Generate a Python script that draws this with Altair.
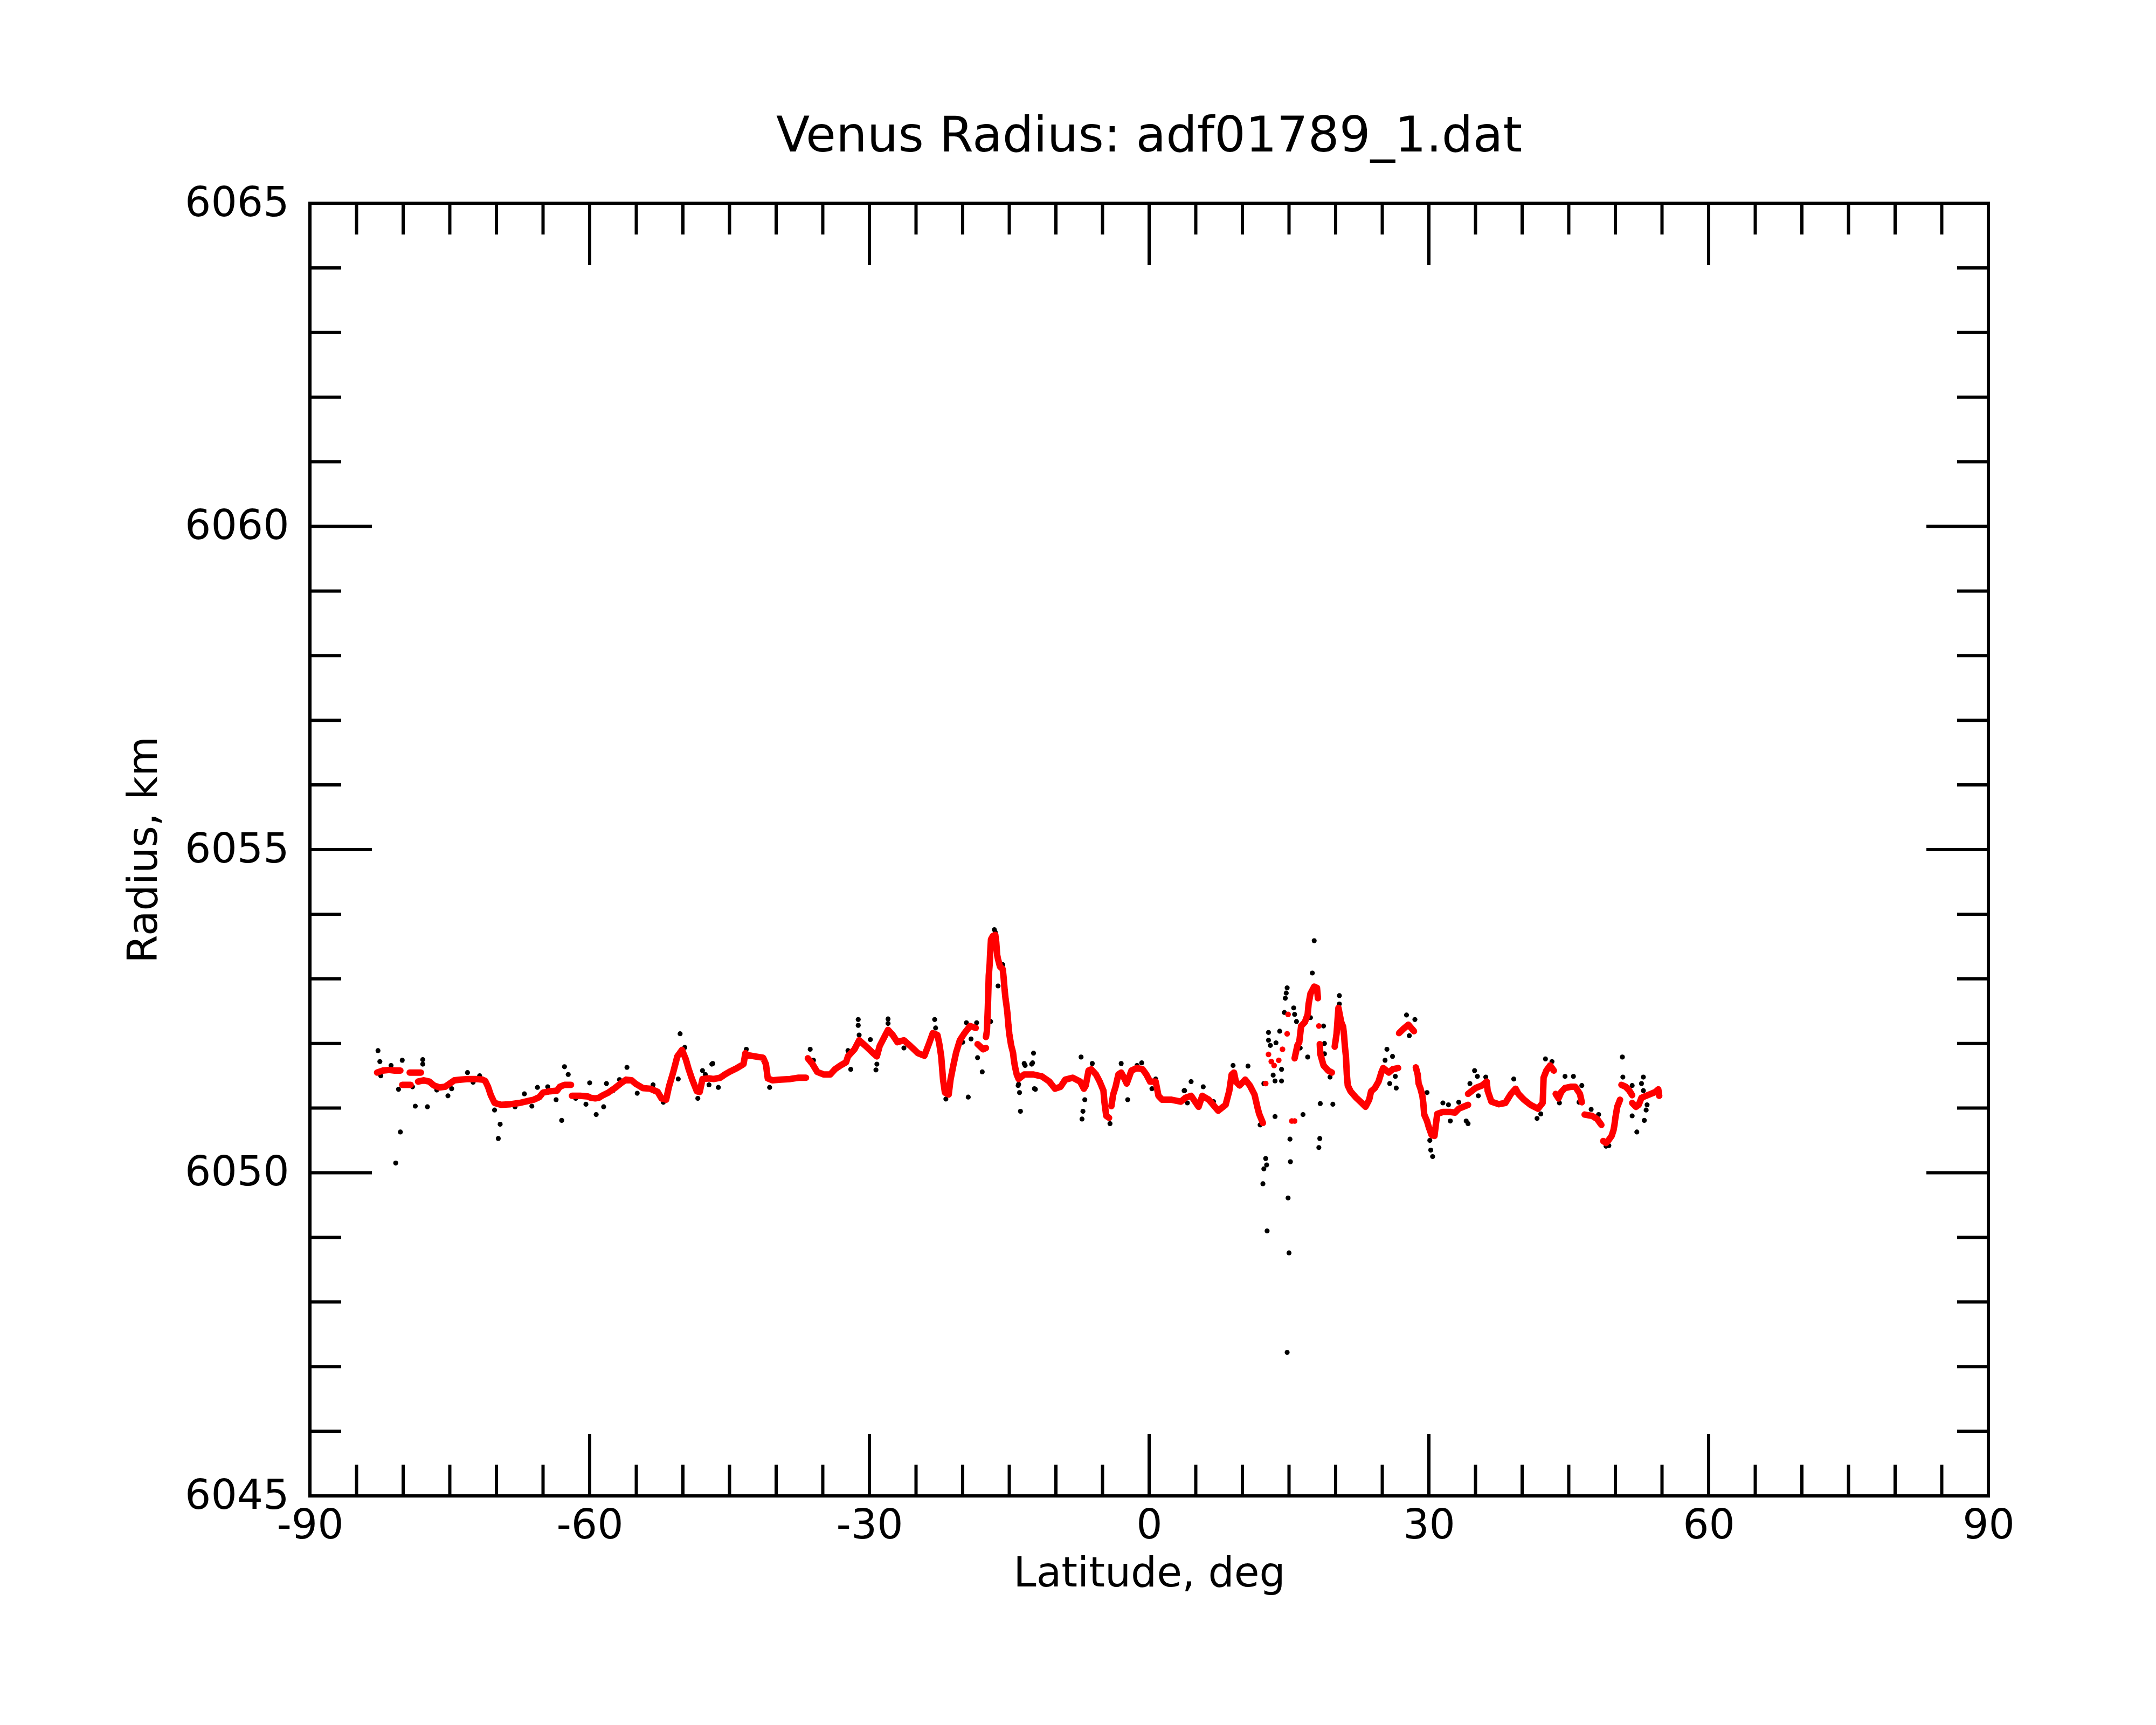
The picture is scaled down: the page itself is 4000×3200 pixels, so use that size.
import altair as alt
import pandas as pd

# ---- red (filtered) profile, as connected runs of (lat, radius)
red_runs = [
    [(-82.8, 6051.55), (-82.2, 6051.58), (-81.5, 6051.59), (-80.9, 6051.58), (-80.3, 6051.58)],
    [(-80.1, 6051.36), (-79.6, 6051.36), (-79.2, 6051.36)],
    [(-79.3, 6051.55), (-78.7, 6051.55), (-78.1, 6051.55)],
    [(-78.4, 6051.41), (-77.8, 6051.43), (-77.2, 6051.41), (-76.7, 6051.35), (-76.1, 6051.32),
     (-75.5, 6051.33), (-75.0, 6051.38), (-74.5, 6051.43), (-73.8, 6051.44), (-73.0, 6051.45),
     (-72.2, 6051.45), (-71.5, 6051.44), (-71.2, 6051.42), (-70.9, 6051.33), (-70.6, 6051.20),
     (-70.2, 6051.08), (-69.5, 6051.05), (-68.5, 6051.06), (-67.5, 6051.08), (-66.6, 6051.11),
     (-66.0, 6051.13), (-65.4, 6051.17), (-65.0, 6051.24), (-64.3, 6051.26), (-63.5, 6051.27),
     (-63.2, 6051.33), (-62.7, 6051.36), (-62.0, 6051.36)],
    [(-61.9, 6051.19), (-61.0, 6051.19), (-60.2, 6051.18), (-59.9, 6051.16), (-59.4, 6051.15),
     (-59.0, 6051.16), (-58.7, 6051.19), (-58.0, 6051.24), (-57.3, 6051.31), (-56.6, 6051.39),
     (-56.1, 6051.44), (-55.5, 6051.43), (-55.1, 6051.38), (-54.3, 6051.31), (-53.5, 6051.30),
     (-52.7, 6051.25), (-52.3, 6051.15), (-51.8, 6051.13), (-51.5, 6051.33), (-51.05, 6051.55),
     (-50.6, 6051.80), (-50.1, 6051.90), (-49.7, 6051.76), (-49.4, 6051.61), (-49.0, 6051.44),
     (-48.5, 6051.26), (-48.2, 6051.25), (-47.9, 6051.45), (-47.2, 6051.46), (-46.7, 6051.45),
     (-46.0, 6051.47), (-45.5, 6051.52), (-44.9, 6051.57), (-44.2, 6051.62), (-43.5, 6051.68),
     (-43.3, 6051.85), (-43.1, 6051.82), (-42.3, 6051.80), (-41.4, 6051.78), (-41.1, 6051.68),
     (-40.9, 6051.46), (-40.4, 6051.43), (-39.5, 6051.44), (-38.5, 6051.45), (-37.6, 6051.47),
     (-36.8, 6051.47)],
    [(-36.6, 6051.77), (-36.1, 6051.68), (-35.6, 6051.56), (-34.9, 6051.52), (-34.2, 6051.52),
     (-33.7, 6051.60), (-33.1, 6051.66), (-32.5, 6051.71), (-32.3, 6051.80), (-31.6, 6051.91),
     (-31.1, 6052.05), (-30.4, 6051.96), (-29.6, 6051.85), (-29.2, 6051.80), (-28.9, 6051.96),
     (-28.4, 6052.10), (-28.0, 6052.21), (-27.5, 6052.13), (-27.0, 6052.02), (-26.3, 6052.05),
     (-25.6, 6051.96), (-24.8, 6051.85), (-24.1, 6051.81), (-23.6, 6052.00), (-23.2, 6052.16),
     (-22.7, 6052.13), (-22.5, 6051.99), (-22.3, 6051.80), (-22.1, 6051.44), (-21.9, 6051.24),
     (-21.5, 6051.21), (-21.3, 6051.44), (-21.0, 6051.66), (-20.7, 6051.86), (-20.3, 6052.05),
     (-19.8, 6052.16), (-19.2, 6052.27), (-18.6, 6052.24)],
    [(-18.4, 6051.99), (-17.8, 6051.91), (-17.5, 6051.93)],
    [(-17.5, 6052.10), (-17.4, 6052.19), (-17.3, 6052.55), (-17.25, 6052.79), (-17.2, 6053.05),
     (-17.1, 6053.23), (-17.06, 6053.37), (-16.96, 6053.61), (-16.77, 6053.66), (-16.5, 6053.68),
     (-16.4, 6053.57), (-16.3, 6053.37), (-16.2, 6053.30), (-16.0, 6053.19), (-15.7, 6053.15),
     (-15.6, 6053.01), (-15.5, 6052.83), (-15.4, 6052.69), (-15.3, 6052.59), (-15.2, 6052.47),
     (-15.1, 6052.29), (-15.0, 6052.15), (-14.9, 6052.06), (-14.8, 6051.97), (-14.6, 6051.86),
     (-14.5, 6051.74), (-14.4, 6051.65), (-14.2, 6051.52), (-14.0, 6051.45), (-13.4, 6051.52),
     (-12.4, 6051.52), (-11.5, 6051.49), (-10.7, 6051.41), (-10.1, 6051.30), (-9.5, 6051.33),
     (-9.0, 6051.44), (-8.2, 6051.47), (-7.4, 6051.41), (-7.0, 6051.30), (-6.8, 6051.35),
     (-6.5, 6051.58), (-6.2, 6051.60), (-5.7, 6051.52), (-5.3, 6051.41), (-4.9, 6051.27),
     (-4.8, 6051.10), (-4.6, 6050.88), (-4.3, 6050.85)],
    [(-4.05, 6051.03), (-3.86, 6051.21), (-3.6, 6051.33), (-3.3, 6051.52), (-3.0, 6051.55),
     (-2.7, 6051.47), (-2.4, 6051.38), (-1.9, 6051.58), (-1.3, 6051.62), (-0.7, 6051.60),
     (-0.3, 6051.52), (0.1, 6051.41), (0.7, 6051.41), (1.0, 6051.19), (1.4, 6051.13),
     (2.4, 6051.13), (3.4, 6051.10), (3.9, 6051.16), (4.5, 6051.19), (5.3, 6051.02),
     (5.7, 6051.19), (6.4, 6051.13), (7.4, 6050.96), (8.2, 6051.05), (8.6, 6051.27),
     (8.85, 6051.52), (9.1, 6051.55), (9.3, 6051.41), (9.7, 6051.35), (10.3, 6051.44),
     (10.8, 6051.35), (11.3, 6051.21), (11.6, 6051.02), (11.8, 6050.91), (12.2, 6050.77)],
    [(15.6, 6051.77), (15.9, 6051.97), (16.1, 6052.02), (16.3, 6052.27), (16.7, 6052.33),
     (17.0, 6052.45), (17.1, 6052.61), (17.3, 6052.77), (17.7, 6052.88), (18.0, 6052.86),
     (18.1, 6052.70)],
    [(18.3, 6051.99), (18.35, 6051.84), (18.7, 6051.66), (19.2, 6051.58), (19.6, 6051.55)],
    [(19.9, 6051.95), (20.0, 6052.05), (20.1, 6052.15), (20.3, 6052.55), (20.6, 6052.33),
     (20.8, 6052.26), (20.9, 6052.13), (21.0, 6051.94), (21.1, 6051.81), (21.2, 6051.52),
     (21.3, 6051.35), (21.6, 6051.26), (22.2, 6051.16), (22.8, 6051.08), (23.2, 6051.02),
     (23.6, 6051.13), (23.8, 6051.26), (24.2, 6051.31), (24.6, 6051.41), (24.9, 6051.55),
     (25.1, 6051.62), (25.7, 6051.55), (26.1, 6051.60), (26.7, 6051.62)],
    [(26.8, 6052.16), (27.3, 6052.23), (27.8, 6052.29), (28.4, 6052.19)],
    [(28.6, 6051.63), (28.8, 6051.52), (28.9, 6051.38), (29.1, 6051.30), (29.3, 6051.19),
     (29.4, 6051.08), (29.5, 6050.90), (29.8, 6050.80), (30.0, 6050.70), (30.3, 6050.58),
     (30.6, 6050.57), (30.75, 6050.75), (30.9, 6050.91), (31.5, 6050.94), (32.3, 6050.94),
     (32.8, 6050.93), (33.2, 6050.99), (34.2, 6051.05)],
    [(34.2, 6051.22), (35.0, 6051.31), (35.7, 6051.35), (36.2, 6051.41), (36.3, 6051.27),
     (36.7, 6051.10), (37.5, 6051.06), (38.2, 6051.08), (38.8, 6051.22), (39.3, 6051.30),
     (39.6, 6051.22), (40.2, 6051.13), (40.9, 6051.05), (41.7, 6050.99), (42.2, 6051.08),
     (42.25, 6051.24), (42.3, 6051.47), (42.6, 6051.58), (43.0, 6051.66), (43.4, 6051.58)],
    [(43.6, 6051.22), (43.9, 6051.15), (44.2, 6051.25), (44.6, 6051.31), (45.2, 6051.33),
     (45.7, 6051.33), (46.2, 6051.22), (46.4, 6051.09)],
    [(46.7, 6050.90), (47.1, 6050.89), (47.5, 6050.88), (48.05, 6050.83), (48.5, 6050.74)],
    [(48.7, 6050.49), (49.0, 6050.46), (49.2, 6050.49), (49.6, 6050.57), (49.8, 6050.66),
     (49.9, 6050.74), (50.0, 6050.85), (50.2, 6051.02), (50.5, 6051.13)],
    [(50.65, 6051.36), (51.1, 6051.33), (51.5, 6051.27), (51.8, 6051.20)],
    [(51.8, 6051.08), (52.2, 6051.02), (52.5, 6051.05), (52.8, 6051.16), (53.3, 6051.19),
     (53.8, 6051.22), (54.3, 6051.25), (54.6, 6051.29), (54.7, 6051.19)],
]

# isolated red dots (not part of a connected run)
red_dots = [(12.5, 6051.38), (12.8, 6051.83), (13.1, 6051.72), (13.4, 6051.66),
            (13.9, 6051.74), (14.3, 6051.91), (14.8, 6052.15), (14.9, 6052.45),
            (15.3, 6050.80), (15.6, 6050.80), (18.2, 6052.27)]

# ---- black (raw) points that show outside the red profile
black_pts = [
    (-82.7, 6051.89), (-82.5, 6051.72), (-82.4, 6051.50), (-81.3, 6051.66), (-80.1, 6051.74),
    (-80.5, 6051.29), (-80.3, 6050.63), (-80.8, 6050.15), (-78.7, 6051.03), (-77.4, 6051.02),
    (-77.9, 6051.75), (-77.9, 6051.68), (-79.0, 6051.33), (-76.4, 6051.28), (-75.2, 6051.19),
    (-74.8, 6051.30), (-73.1, 6051.55), (-72.5, 6051.40), (-71.8, 6051.50), (-70.2, 6050.97),
    (-69.6, 6050.75), (-69.8, 6050.53), (-68.0, 6051.02), (-67.0, 6051.22), (-66.2, 6051.03),
    (-65.6, 6051.32), (-64.5, 6051.33), (-63.6, 6051.13), (-63.0, 6050.81), (-62.7, 6051.64),
    (-62.3, 6051.52), (-61.5, 6051.15), (-60.4, 6051.06), (-60.0, 6051.39), (-59.3, 6050.90),
    (-58.5, 6051.02), (-58.2, 6051.38), (-57.5, 6051.27), (-56.8, 6051.44), (-56.0, 6051.63),
    (-54.9, 6051.23), (-53.2, 6051.36), (-52.1, 6051.09), (-50.3, 6052.15), (-49.8, 6051.94),
    (-50.5, 6051.45), (-48.4, 6051.15), (-47.9, 6051.58), (-46.8, 6051.69), (-47.2, 6051.36),
    (-46.9, 6051.68), (-46.2, 6051.32), (-47.6, 6051.52), (-43.2, 6051.91), (-40.7, 6051.32),
    (-36.35, 6051.91), (-36.0, 6051.74), (-32.3, 6051.89), (-32.0, 6051.60), (-31.2, 6052.37),
    (-31.2, 6052.28), (-31.1, 6052.13), (-29.9, 6052.06), (-29.3, 6051.59), (-29.2, 6051.68),
    (-28.0, 6052.38), (-28.0, 6052.31), (-26.3, 6051.93), (-23.0, 6052.37), (-22.9, 6052.24),
    (-21.8, 6051.14), (-19.4, 6051.17), (-19.6, 6052.32), (-18.5, 6052.32), (-19.1, 6052.07),
    (-18.4, 6051.78), (-17.9, 6051.56), (-17.0, 6052.34), (-16.2, 6052.89), (-14.05, 6051.35),
    (-13.9, 6051.24), (-13.8, 6050.95), (-13.3, 6051.66), (-12.6, 6051.68), (-12.4, 6051.85),
    (-12.2, 6051.29), (-16.6, 6053.76), (-16.5, 6053.72), (-15.7, 6053.22), (-14.0, 6051.37),
    (-13.4, 6051.69), (-12.5, 6051.70), (-12.3, 6051.30), (-7.3, 6051.79), (-6.9, 6051.13),
    (-7.1, 6050.95), (-7.2, 6050.83), (-6.1, 6051.69), (-4.2, 6050.76), (-3.0, 6051.69),
    (-2.3, 6051.13), (-1.3, 6051.66), (-0.8, 6051.70), (0.3, 6051.30), (0.7, 6051.45),
    (3.8, 6051.27), (-20.0, 6052.02),
    (4.5, 6051.41), (3.75, 6051.27), (5.8, 6051.33), (4.1, 6051.08), (6.9, 6051.10),
    (9.0, 6051.66), (10.6, 6051.65), (11.9, 6050.74), (12.3, 6051.38), (12.8, 6052.17),
    (12.8, 6052.05), (13.0, 6051.97), (13.6, 6052.01), (13.3, 6051.51), (13.5, 6051.42),
    (14.2, 6051.42), (14.2, 6051.60), (13.5, 6050.87), (14.0, 6052.19), (14.5, 6052.48),
    (14.6, 6052.70), (14.7, 6052.78), (14.8, 6052.86), (15.5, 6052.55), (15.6, 6052.45),
    (15.8, 6052.34), (16.2, 6051.93), (16.5, 6050.90), (17.0, 6051.79), (17.3, 6052.40),
    (17.5, 6053.09), (17.7, 6053.59), (18.7, 6052.27), (18.8, 6052.00), (18.8, 6051.84),
    (18.35, 6051.07), (19.7, 6051.06), (19.4, 6051.48), (20.4, 6052.74), (20.4, 6052.61),
    (25.5, 6051.91), (25.3, 6051.74), (26.1, 6051.80), (25.8, 6051.38), (26.5, 6051.31),
    (26.4, 6051.49), (27.6, 6052.44), (28.5, 6052.37), (27.9, 6052.12), (29.8, 6051.24),
    (31.5, 6051.08),
    (15.1, 6050.52), (18.3, 6050.53), (18.2, 6050.39), (12.5, 6050.22), (12.6, 6050.12),
    (12.3, 6050.06), (15.15, 6050.17), (12.2, 6049.83), (14.9, 6049.61), (12.65, 6049.10),
    (15.0, 6048.76), (14.8, 6047.22),
    (30.2, 6050.35), (30.4, 6050.25), (30.1, 6050.50),
    (32.1, 6051.05), (32.3, 6050.80), (33.2, 6051.09), (34.0, 6050.80), (34.2, 6050.76),
    (34.9, 6051.58), (35.2, 6051.49), (34.4, 6051.38), (35.3, 6051.19), (36.1, 6051.48),
    (39.1, 6051.45), (41.6, 6050.84), (42.0, 6050.91), (42.5, 6051.76), (43.2, 6051.72),
    (44.6, 6051.49), (45.5, 6051.49), (46.4, 6051.35), (46.1, 6051.09), (44.0, 6051.08),
    (47.4, 6050.98), (48.2, 6050.90), (49.0, 6050.41), (49.3, 6050.42), (50.75, 6051.79),
    (50.8, 6051.48), (51.8, 6051.35), (53.0, 6051.48), (52.8, 6051.38), (53.0, 6051.27),
    (53.4, 6051.05), (53.3, 6050.97), (51.8, 6050.88), (53.1, 6050.81), (52.3, 6050.63),
]

# ---- axis ticks
x_labels = [-90, -60, -30, 0, 30, 60, 90]
y_labels = [6045, 6050, 6055, 6060, 6065]
x_major = [-60, -30, 0, 30, 60]
x_minor = [-85, -80, -75, -70, -65, -55, -50, -45, -40, -35, -25, -20, -15, -10, -5,
           5, 10, 15, 20, 25, 35, 40, 45, 50, 55, 65, 70, 75, 80, 85]
y_major = [6050, 6055, 6060]
y_minor = [6046, 6047, 6048, 6049, 6051, 6052, 6053, 6054, 6056, 6057, 6058, 6059,
           6061, 6062, 6063, 6064]

W, H = 3114, 2398
FONT = "DejaVu Sans"

rows = []
for s, run in enumerate(red_runs):
    for la, ra in run:
        rows.append({"lat": la, "rad": ra, "seg": s})
red_line_df = pd.DataFrame(rows)
red_line_df["idx"] = range(len(red_line_df))
red_dot_df = pd.concat([red_line_df[["lat", "rad"]],
                        pd.DataFrame(red_dots, columns=["lat", "rad"])], ignore_index=True)
black_df = pd.DataFrame(black_pts, columns=["lat", "rad"])

xs = alt.Scale(domain=[-90, 90], nice=False, zero=False)
ys = alt.Scale(domain=[6045, 6065], nice=False, zero=False)

x_axis = alt.Axis(
    values=x_labels, labelExpr="'' + datum.value", labelFontSize=76, labelFont=FONT,
    labelColor="black", labelPadding=78, labelBaseline="alphabetic", labelFlush=False,
    labelOverlap=False, labelLimit=0, ticks=False, tickSize=0, domain=False, grid=False,
    title="Latitude, deg", titleFontSize=76, titleFont=FONT, titleFontWeight="normal",
    titleColor="black", titleBaseline="alphabetic", titleAlign="center",
    titleX=W / 2, titleY=167,
)
y_axis = alt.Axis(
    values=y_labels, labelExpr="'' + datum.value", labelFontSize=76, labelFont=FONT,
    labelColor="black", labelPadding=39, labelBaseline="middle", labelFlush=False,
    labelOverlap=False, labelLimit=0, ticks=False, tickSize=0, domain=False, grid=False,
    title="Radius, km", titleFontSize=76, titleFont=FONT, titleFontWeight="normal",
    titleColor="black", titleAngle=270, titleBaseline="alphabetic", titleAlign="center",
    titleX=-285, titleY=H / 2,
)

X = lambda f: alt.X(f, scale=xs, axis=x_axis)
Y = lambda f: alt.Y(f, scale=ys, axis=y_axis)

black = alt.Chart(black_df).mark_circle(size=85, color="black", opacity=1).encode(
    x=X("lat:Q"), y=Y("rad:Q"),
)
red_line = alt.Chart(red_line_df).mark_line(
    color="#ff0000", strokeWidth=12, strokeCap="round", strokeJoin="round"
).encode(
    x=X("lat:Q"), y=Y("rad:Q"), detail="seg:N", order="idx:Q",
)
red_pts = alt.Chart(red_dot_df).mark_circle(size=110, color="#ff0000", opacity=1).encode(
    x=X("lat:Q"), y=Y("rad:Q"),
)


def xticks(vals, y0, y1):
    return alt.Chart(pd.DataFrame({"lat": vals})).mark_rule(color="black", strokeWidth=6).encode(
        x=X("lat:Q"), y=alt.value(y0), y2=alt.value(y1)
    )


def yticks(vals, x0, x1):
    return alt.Chart(pd.DataFrame({"rad": vals})).mark_rule(color="black", strokeWidth=6).encode(
        y=Y("rad:Q"), x=alt.value(x0), x2=alt.value(x1)
    )


MAJ, MIN = 115, 58
ticks = [
    xticks(x_major, H, H - MAJ), xticks(x_minor, H, H - MIN),
    xticks(x_major, 0, MAJ), xticks(x_minor, 0, MIN),
    yticks(y_major, 0, MAJ), yticks(y_minor, 0, MIN),
    yticks(y_major, W, W - MAJ), yticks(y_minor, W, W - MIN),
]

chart = alt.layer(black, red_line, red_pts, *ticks).properties(
    width=W, height=H,
    autosize=alt.AutoSizeParams(type="none"),
    padding={"left": 567, "top": 369, "right": 300, "bottom": 400},
    title=alt.Title(
        text="Venus Radius: adf01789_1.dat", fontSize=91, font=FONT, fontWeight="normal",
        color="black", anchor="middle", frame="group", baseline="alphabetic", offset=-33,
    ),
).configure_view(stroke="black", strokeWidth=6)

chart.save("out.html", embed_options={"renderer": "svg", "actions": False})
